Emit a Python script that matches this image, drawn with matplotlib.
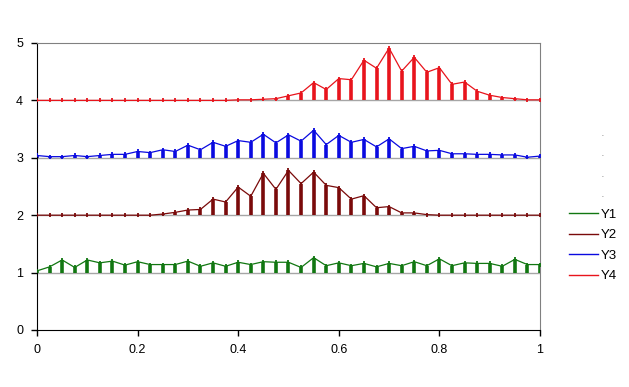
import matplotlib.pyplot as plt
from matplotlib.lines import Line2D

plt.rcParams['font.family'] = ['Liberation Sans', 'DejaVu Sans']

x = [0.0, 0.025, 0.05, 0.075, 0.1, 0.125, 0.15, 0.175, 0.2, 0.225,
     0.25, 0.275, 0.3, 0.325, 0.35, 0.375, 0.4, 0.425, 0.45, 0.475,
     0.5, 0.525, 0.55, 0.575, 0.6, 0.625, 0.65, 0.675, 0.7, 0.725,
     0.75, 0.775, 0.8, 0.825, 0.85, 0.875, 0.9, 0.925, 0.95, 0.975, 1.0]

y1 = [1.03, 1.10, 1.22, 1.09, 1.22, 1.17, 1.20, 1.13, 1.19, 1.14,
      1.14, 1.14, 1.20, 1.11, 1.17, 1.11, 1.18, 1.14, 1.19, 1.18,
      1.18, 1.09, 1.26, 1.12, 1.17, 1.12, 1.16, 1.10, 1.16, 1.12,
      1.19, 1.12, 1.24, 1.12, 1.17, 1.16, 1.16, 1.11, 1.23, 1.14, 1.14]
y2 = [2.0, 2.0, 2.0, 2.0, 2.0, 2.0, 2.0, 2.0, 2.0, 2.0,
      2.02, 2.05, 2.09, 2.10, 2.28, 2.23, 2.49, 2.33, 2.73, 2.45,
      2.78, 2.55, 2.75, 2.52, 2.48, 2.28, 2.34, 2.13, 2.15, 2.04,
      2.04, 2.01, 2.0, 2.0, 2.0, 2.0, 2.0, 2.0, 2.0, 2.0, 2.0]
y3 = [3.04, 3.02, 3.02, 3.04, 3.02, 3.04, 3.06, 3.06, 3.11, 3.09,
      3.14, 3.11, 3.22, 3.14, 3.27, 3.20, 3.30, 3.27, 3.41, 3.26,
      3.40, 3.29, 3.48, 3.23, 3.39, 3.27, 3.32, 3.19, 3.33, 3.16,
      3.20, 3.12, 3.13, 3.07, 3.07, 3.06, 3.06, 3.05, 3.05, 3.01, 3.03]
y4 = [4.0, 4.0, 4.0, 4.0, 4.0, 4.0, 4.0, 4.0, 4.0, 4.0,
      4.0, 4.0, 4.0, 4.0, 4.0, 4.0, 4.01, 4.01, 4.02, 4.03,
      4.08, 4.13, 4.31, 4.19, 4.38, 4.36, 4.70, 4.56, 4.91, 4.51,
      4.75, 4.49, 4.57, 4.28, 4.32, 4.16, 4.09, 4.05, 4.03, 4.01, 4.01]

series = [y1, y2, y3, y4]
names = ['Y1', 'Y2', 'Y3', 'Y4']
bases = [1, 2, 3, 4]
colors = ['#117711', '#7a0a0a', '#0a0ae0', '#e8141c']

fig = plt.figure(figsize=(6.29, 3.87), dpi=100)
ax = fig.add_axes([0.0588, 0.1473, 0.7997, 0.7416])

for b in bases:
    ax.plot([0, 1], [b, b], color='#a6a6a6', lw=1.0, zorder=1)

for ys, b, c in zip(series, bases, colors):
    ax.vlines(x, b, ys, color=c, lw=2.6, zorder=2)
    ax.plot(x, ys, color=c, lw=0.9, marker='|', ms=3, mew=1.3, zorder=3)

ax.set_xlim(0, 1)
ax.set_ylim(0, 5)
ax.set_xticks([0, 0.2, 0.4, 0.6, 0.8, 1])
ax.set_xticklabels(['0', '0.2', '0.4', '0.6', '0.8', '1'])
ax.set_yticks([0, 1, 2, 3, 4, 5])
ax.tick_params(labelsize=9, length=4, width=1, direction='out', pad=6)
ax.spines['left'].set_color('black')
ax.spines['bottom'].set_color('black')
ax.spines['top'].set_color('#808080')
ax.spines['right'].set_color('#808080')

# four empty legend entries show up as dots above Y1..Y4
handles = [Line2D([], [], linestyle='none') for _ in range(4)]
handles += [Line2D([], [], color=c, lw=1.0) for c in colors]
labels = ['.', '.', '.', '.'] + names
leg = fig.legend(handles, labels, loc='center left', bbox_to_anchor=(0.886, 0.472),
                 frameon=False, fontsize=9.5, handlelength=2.2, handletextpad=0.2,
                 labelspacing=0.63)
for t in leg.get_texts()[:4]:
    t.set_color('#a0a0a0')

fig.savefig('out.png', dpi=100)
